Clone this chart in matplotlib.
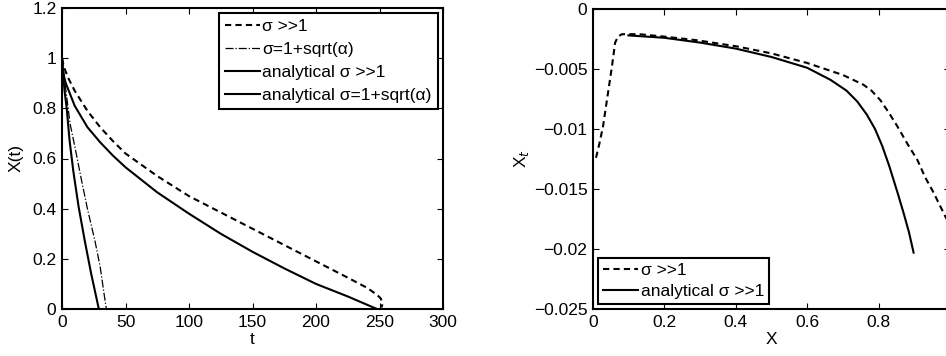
import numpy as np
import matplotlib.pyplot as plt

plt.rcParams['font.family'] = ['Liberation Sans', 'DejaVu Sans']
plt.rcParams['font.size'] = 12.5

# left panel: X(t)
t_num_big = [0, 1.6, 5, 10, 20, 30, 40, 50, 75, 100, 125, 150, 175, 200, 225, 240, 248, 251, 252.5, 251.5]
x_num_big = [1.0, 0.963, 0.92, 0.87, 0.79, 0.725, 0.67, 0.62, 0.53, 0.45, 0.385, 0.32, 0.255, 0.19, 0.125, 0.085,
             0.057, 0.042, 0.022, 0.006]
t_num_sq = [0, 1, 2.4, 6.3, 10, 15.5, 20, 26, 30, 34, 35]
x_num_sq = [1.0, 0.97, 0.9, 0.74, 0.65, 0.51, 0.40, 0.27, 0.17, 0.03, 0.0]
t_an_big = [0, 0.8, 3, 10, 20, 30, 40, 50, 75, 100, 125, 150, 175, 200, 225, 248]
x_an_big = [1.0, 0.94, 0.9, 0.81, 0.725, 0.665, 0.612, 0.565, 0.465, 0.38, 0.30, 0.228, 0.162, 0.10, 0.05, 0.0]
t_an_sq = [0, 0.5, 2, 3.7, 6, 8.9, 13, 18, 23, 29]
x_an_sq = [1.0, 0.96, 0.87, 0.80, 0.67, 0.55, 0.41, 0.27, 0.14, 0.0]

# right panel: X_t vs X
xx_num = [0.0084, 0.018, 0.028, 0.042, 0.053, 0.062, 0.07, 0.081, 0.13, 0.2, 0.29, 0.4, 0.5, 0.6, 0.7, 0.757,
          0.78, 0.805, 0.83, 0.853, 0.88, 0.909, 0.93, 0.954, 0.987, 1.0]
xt_num = [-0.0124, -0.0112, -0.0098, -0.007, -0.0048, -0.0028, -0.0023, -0.0021, -0.0021, -0.0023, -0.0026,
          -0.0031, -0.0037, -0.0045, -0.0055, -0.0063, -0.0068, -0.0076, -0.0087, -0.0098, -0.0112, -0.0126,
          -0.014, -0.0153, -0.0173, -0.018]
xx_an = [0.099, 0.2, 0.3, 0.4, 0.5, 0.6, 0.665, 0.71, 0.74, 0.767, 0.79, 0.81, 0.83, 0.853, 0.87, 0.885, 0.898]
xt_an = [-0.0022, -0.0024, -0.0028, -0.0033, -0.0040, -0.0049, -0.0059, -0.0068, -0.0077, -0.0088, -0.0100,
         -0.0114, -0.0131, -0.0153, -0.0170, -0.0186, -0.0203]

W, H = 946, 356
fig = plt.figure(figsize=(W / 100, H / 100), dpi=100)

def style(ax):
    for s in ax.spines.values():
        s.set_linewidth(1.5)
    ax.tick_params(direction='in', top=True, right=True, length=4, width=0.8, pad=4)

ax1 = fig.add_axes([62 / W, 1 - 309 / H, 381 / W, 301 / H])
ax1.plot(t_num_big, x_num_big, 'k', ls=(0, (3, 2)), lw=1.5, label='σ >>1')
ax1.plot(t_num_sq, x_num_sq, 'k-.', lw=0.9, label='σ=1+sqrt(α)')
ax1.plot(t_an_big, x_an_big, 'k-', lw=1.5, label='analytical σ >>1')
ax1.plot(t_an_sq, x_an_sq, 'k-', lw=1.5, label='analytical σ=1+sqrt(α)')
ax1.set_xlim(0, 300)
ax1.set_ylim(0, 1.2)
ax1.set_xticks([0, 50, 100, 150, 200, 250, 300])
ax1.set_yticks([0, 0.2, 0.4, 0.6, 0.8, 1.0, 1.2])
ax1.set_yticklabels(['0', '0.2', '0.4', '0.6', '0.8', '1', '1.2'])
ax1.set_xlabel('t', labelpad=2)
ax1.set_ylabel('X(t)', labelpad=6)
style(ax1)
leg = ax1.legend(loc='upper right', fancybox=False, edgecolor='k', framealpha=1,
                 borderaxespad=0.3, handlelength=2.0, handletextpad=0.15, labelspacing=0.45, borderpad=0.35)
leg.get_frame().set_linewidth(1.5)

ax2 = fig.add_axes([593 / W, 1 - 309 / H, 357 / W, 300 / H])
ax2.plot(xx_num, xt_num, 'k', ls=(0, (3, 2)), lw=1.5, label='σ >>1')
ax2.plot(xx_an, xt_an, 'k-', lw=1.5, label='analytical σ >>1')
ax2.set_xlim(0, 1)
ax2.set_ylim(-0.025, 0)
ax2.set_xticks([0, 0.2, 0.4, 0.6, 0.8, 1.0])
ax2.set_xticklabels(['0', '0.2', '0.4', '0.6', '0.8', '1'])
ax2.set_yticks([0, -0.005, -0.01, -0.015, -0.02, -0.025])
ax2.set_yticklabels(['0', '\u22120.005', '\u22120.01', '\u22120.015', '\u22120.02', '\u22120.025'])
ax2.set_xlabel('X', labelpad=2)
ax2.set_ylabel('X$_t$', labelpad=2)
style(ax2)
leg2 = ax2.legend(loc='lower left', fancybox=False, edgecolor='k', framealpha=1,
                  borderaxespad=0.3, handlelength=2.0, handletextpad=0.15, labelspacing=0.3, borderpad=0.3)
leg2.get_frame().set_linewidth(1.5)

fig.savefig('out.png', dpi=100)
